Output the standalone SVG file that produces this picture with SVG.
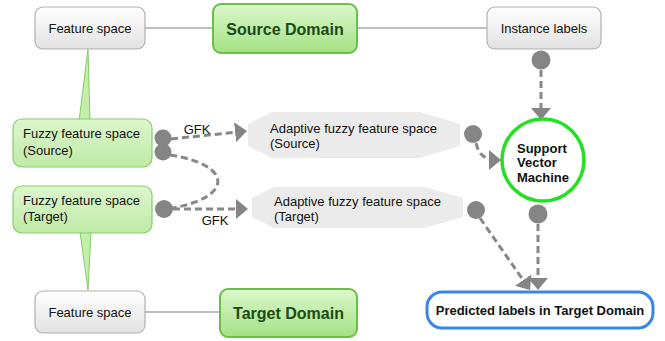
<svg xmlns="http://www.w3.org/2000/svg" width="665" height="341" viewBox="0 0 665 341">
<defs>
<linearGradient id="gGray" x1="0" y1="0" x2="0" y2="1"><stop offset="0" stop-color="#ffffff"/><stop offset="1" stop-color="#e2e2e2"/></linearGradient>
<linearGradient id="gDom" x1="0" y1="0" x2="0" y2="1"><stop offset="0" stop-color="#dcf8cc"/><stop offset="1" stop-color="#a3e184"/></linearGradient>
<linearGradient id="gFuzzy" x1="0" y1="0" x2="0" y2="1"><stop offset="0" stop-color="#dcf7cd"/><stop offset="1" stop-color="#bfeaa6"/></linearGradient>
<marker id="arr" viewBox="0 0 12 20" refX="12" refY="10" markerWidth="12" markerHeight="20" markerUnits="userSpaceOnUse" orient="auto"><path d="M0,0 L12,10 L0,20 Z" fill="#858585"/></marker>
</defs>
<style>
text{font-family:"Liberation Sans",Arial,sans-serif;fill:#111}
.gray{fill:url(#gGray);stroke:#b0b0b0;stroke-width:1.2}
.dom{fill:url(#gDom);stroke:#6cbd4c;stroke-width:2}
.fuzzy{fill:url(#gFuzzy);stroke:#86cc6c;stroke-width:1.2}
.adapt{fill:#ebebeb;stroke:none}
.t13{font-size:13px}
.dt{font-size:16px;font-weight:bold;fill:#1d4a14}
.bold{font-size:13px;font-weight:bold}
.solid{stroke:#aaaaaa;stroke-width:1.3;fill:none}
.dash{stroke:#888888;stroke-width:3;stroke-dasharray:7 4;fill:none}
.dot{fill:#858585}
.callout{fill:#c4eeac;stroke:#86cc6c;stroke-width:1}
</style>

<g id="connectors">
<line class="solid" x1="145" y1="28" x2="213" y2="28"/>
<line class="solid" x1="357" y1="28" x2="487" y2="28"/>
<line class="solid" x1="145" y1="312" x2="220" y2="312"/>
<circle class="dot" cx="541" cy="60" r="9.5"/>
<line class="dash" x1="541" y1="70" x2="541" y2="120" marker-end="url(#arr)"/>
<circle class="dot" cx="163" cy="138" r="8.5"/>
<circle class="dot" cx="163" cy="152" r="8.5"/>
<circle class="dot" cx="164" cy="209" r="9"/>
<path class="dash" d="M171,139 L247,131" marker-end="url(#arr)"/>
<text class="t13" x="197" y="134" text-anchor="middle">GFK</text>
<path class="dash" d="M170,155 C235,165 232,198 172,208"/>
<path class="dash" d="M173,209 L248,209" marker-end="url(#arr)"/>
<text class="t13" x="215" y="225" text-anchor="middle">GFK</text>
<circle class="dot" cx="473" cy="134" r="9"/>
<path class="dash" d="M476,143 C479,156 485,160 501,160" marker-end="url(#arr)"/>
<circle class="dot" cx="476" cy="210" r="9"/>
<path class="dash" d="M480,218 L530,290" marker-end="url(#arr)"/>
<circle class="dot" cx="538" cy="214" r="9.5"/>
<line class="dash" x1="538" y1="224" x2="538" y2="290" marker-end="url(#arr)"/>
</g>

<g id="callouts">
<path class="callout" d="M88,49 L79,121 L90,121 Z"/>
<path class="callout" d="M80,232 L91,232 L88,290 Z"/>
</g>

<g id="feature-space-top">
<rect class="gray" x="35" y="7" width="110" height="42" rx="8"/>
<text class="t13" x="90" y="33" text-anchor="middle">Feature space</text>
</g>
<g id="source-domain">
<rect class="dom" x="213" y="4" width="144" height="49" rx="8"/>
<text class="dt" x="285" y="34.5" text-anchor="middle">Source Domain</text>
</g>
<g id="instance-labels">
<rect class="gray" x="487" y="7" width="114" height="42" rx="8"/>
<text class="t13" x="544" y="33" text-anchor="middle">Instance labels</text>
</g>
<g id="fuzzy-source">
<rect class="fuzzy" x="13" y="119" width="139" height="48" rx="9"/>
<text class="t13" x="23" y="138">Fuzzy feature space</text>
<text class="t13" x="23" y="155">(Source)</text>
</g>
<g id="fuzzy-target">
<rect class="fuzzy" x="13" y="186" width="139" height="47" rx="9"/>
<text class="t13" x="23" y="205">Fuzzy feature space</text>
<text class="t13" x="23" y="221">(Target)</text>
</g>
<g id="adaptive-source">
<polygon class="adapt" points="272,112 420,112 460,124 460,146 420,158 272,158 248,146 248,124"/>
<text class="t13" x="270" y="133">Adaptive fuzzy feature space</text>
<text class="t13" x="270" y="148">(Source)</text>
</g>
<g id="adaptive-target">
<polygon class="adapt" points="274,187 424,187 463,198 463,217 424,228 274,228 252,217 252,198"/>
<text class="t13" x="274" y="206">Adaptive fuzzy feature space</text>
<text class="t13" x="274" y="221">(Target)</text>
</g>
<g id="svm">
<circle cx="543" cy="160" r="41" fill="#ffffff" stroke="#22e022" stroke-width="3.5"/>
<text class="bold" x="517" y="153">Support</text>
<text class="bold" x="517" y="167">Vector</text>
<text class="bold" x="517" y="182">Machine</text>
</g>
<g id="feature-space-bottom">
<rect class="gray" x="35" y="291" width="110" height="42" rx="8"/>
<text class="t13" x="90" y="317" text-anchor="middle">Feature space</text>
</g>
<g id="target-domain">
<rect class="dom" x="220" y="289" width="137" height="48" rx="8"/>
<text class="dt" x="288.5" y="319" text-anchor="middle">Target Domain</text>
</g>
<g id="predicted-labels">
<rect x="427" y="292" width="226" height="36" rx="15" fill="#ffffff" stroke="#3a86e6" stroke-width="3"/>
<text class="bold" x="540" y="315" text-anchor="middle">Predicted labels in Target Domain</text>
</g>
</svg>
